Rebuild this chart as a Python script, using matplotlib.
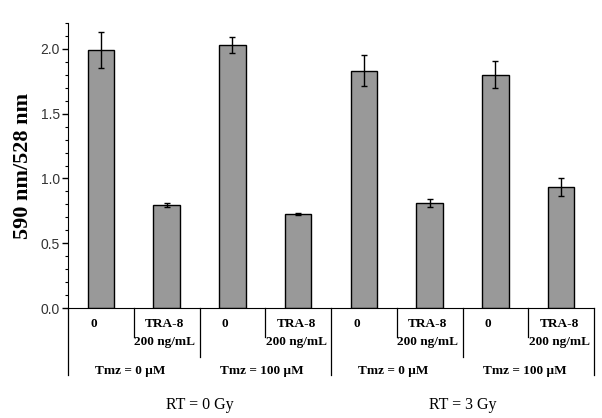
#Imports:
import numpy as np
import matplotlib
matplotlib.use("Agg")
import matplotlib.pyplot as plt

#Data:
treatments = ["0", "TRA-8\n200 ng/mL", "0", "TRA-8\n200 ng/mL",
              "0", "TRA-8\n200 ng/mL", "0", "TRA-8\n200 ng/mL"]
tmz_labels = ["Tmz = 0 \u00b5M", "Tmz = 100 \u00b5M", "Tmz = 0 \u00b5M", "Tmz = 100 \u00b5M"]
rt_labels = ["RT = 0 Gy", "RT = 3 Gy"]
ratio = [1.99, 0.795, 2.03, 0.725, 1.83, 0.81, 1.80, 0.935]
ratio_err = [0.14, 0.015, 0.06, 0.007, 0.12, 0.03, 0.105, 0.07]

x = np.arange(len(ratio))

#Figure and axes:
fig = plt.figure(figsize=(6.02, 4.18), dpi=100)
ax = fig.add_axes([68 / 602, 1 - 308 / 418, 526 / 602, 285 / 418])

ax.bar(x, ratio, width=0.405, color="#999999", edgecolor="black", linewidth=1, zorder=2)
ax.errorbar(x, ratio, yerr=ratio_err, fmt="none", ecolor="black", elinewidth=1,
            capsize=2.3, capthick=1, zorder=3)

ax.set_xlim(-0.5, len(ratio) - 0.5)
ax.set_ylim(0, 2.2)
ax.set_yticks(np.arange(0, 2.01, 0.5))
ax.set_yticks(np.arange(0, 2.21, 0.1), minor=True)
ax.yaxis.set_major_formatter(matplotlib.ticker.FormatStrFormatter("%.1f"))
ax.tick_params(axis="y", which="major", direction="out", length=4, width=1,
               labelsize=10, labelcolor="#333333", pad=2)
ax.tick_params(axis="y", which="minor", direction="out", length=2.5, width=0.8)
for lbl in ax.get_yticklabels():
    lbl.set_family("Liberation Sans")
ax.set_xticks([])
ax.spines["top"].set_visible(False)
ax.spines["right"].set_visible(False)

ax.set_ylabel("590 nm/528 nm", fontsize=16, fontweight="bold",
              family="Liberation Serif", labelpad=5)

#Category table under the axis:
trans = ax.get_xaxis_transform()
serif = "Liberation Serif"

def vline(xpos, ybottom):
    ax.plot([xpos, xpos], [0, ybottom], color="black", lw=0.9,
            transform=trans, clip_on=False)

for i in range(len(ratio) + 1):
    xpos = i - 0.5
    if i % 4 == 0:
        vline(xpos, -0.235)
    elif i % 2 == 0:
        vline(xpos, -0.172)
    else:
        vline(xpos, -0.102)

for i, lab in enumerate(treatments):
    if lab == "0":
        ax.text(i - 0.11, -0.056, lab, transform=trans, ha="center", va="center",
                fontsize=9.5, fontweight="bold", family=serif)
    else:
        top, bottom = lab.split("\n")
        ax.text(i - 0.03, -0.056, top, transform=trans, ha="center", va="center",
                fontsize=9.5, fontweight="bold", family=serif)
        ax.text(i - 0.03, -0.118, bottom, transform=trans, ha="center", va="center",
                fontsize=9.5, fontweight="bold", family=serif)

for j, lab in enumerate(tmz_labels):
    ax.text(2 * j + 0.5 - 0.05, -0.221, lab, transform=trans, ha="center", va="center",
            fontsize=9.5, fontweight="bold", family=serif)

for k, lab in enumerate(rt_labels):
    ax.text(4 * k + 1.5, -0.34, lab, transform=trans, ha="center", va="center",
            fontsize=11.5, family=serif)

#Saving:
fig.savefig("out.png", dpi=100)
